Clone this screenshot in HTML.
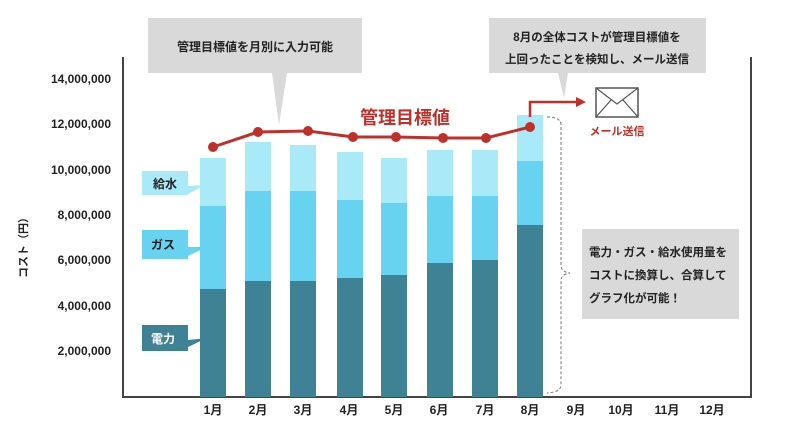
<!DOCTYPE html><html><head><meta charset="utf-8"><style>
body{margin:0;background:#fff}
svg text{font-family:"Liberation Sans","Noto Sans CJK JP",sans-serif}
</style></head><body>
<svg width="800" height="434" viewBox="0 0 800 434" xmlns="http://www.w3.org/2000/svg">
<rect width="800" height="434" fill="#fff"/>
<!-- axes -->
<path d="M123 57 V397 H751 V57" fill="none" stroke="#444" stroke-width="2"/>
<g font-size="12" fill="#222" text-anchor="end" font-weight="bold">
<text x="111" y="83">14,000,000</text>
<text x="111" y="128">12,000,000</text>
<text x="111" y="174">10,000,000</text>
<text x="111" y="219">8,000,000</text>
<text x="111" y="264">6,000,000</text>
<text x="111" y="310">4,000,000</text>
<text x="111" y="355">2,000,000</text>
</g>
<text transform="translate(27,245) rotate(-90)" font-size="11" font-weight="bold" text-anchor="middle" fill="#222">コスト（円）</text>
<!-- bars -->
<g>
<rect x="200" y="158" width="26" height="239" fill="#aae9f7"/><rect x="200" y="206" width="26" height="191" fill="#67d3f0"/><rect x="200" y="289" width="26" height="108" fill="#3f8296"/>
<rect x="245" y="142" width="26" height="255" fill="#aae9f7"/><rect x="245" y="191" width="26" height="206" fill="#67d3f0"/><rect x="245" y="281" width="26" height="116" fill="#3f8296"/>
<rect x="290" y="145" width="26" height="252" fill="#aae9f7"/><rect x="290" y="191" width="26" height="206" fill="#67d3f0"/><rect x="290" y="281" width="26" height="116" fill="#3f8296"/>
<rect x="337" y="152" width="26" height="245" fill="#aae9f7"/><rect x="337" y="200" width="26" height="197" fill="#67d3f0"/><rect x="337" y="278" width="26" height="119" fill="#3f8296"/>
<rect x="381" y="158" width="26" height="239" fill="#aae9f7"/><rect x="381" y="203" width="26" height="194" fill="#67d3f0"/><rect x="381" y="275" width="26" height="122" fill="#3f8296"/>
<rect x="427" y="150" width="26" height="247" fill="#aae9f7"/><rect x="427" y="196" width="26" height="201" fill="#67d3f0"/><rect x="427" y="263" width="26" height="134" fill="#3f8296"/>
<rect x="472" y="150" width="26" height="247" fill="#aae9f7"/><rect x="472" y="196" width="26" height="201" fill="#67d3f0"/><rect x="472" y="260" width="26" height="137" fill="#3f8296"/>
<rect x="517" y="115" width="26" height="282" fill="#aae9f7"/><rect x="517" y="161" width="26" height="236" fill="#67d3f0"/><rect x="517" y="225" width="26" height="172" fill="#3f8296"/>
</g>
<!-- month labels -->
<g font-size="12" font-weight="bold" fill="#222" text-anchor="middle">
<text x="213" y="414">1月</text><text x="258" y="414">2月</text><text x="303" y="414">3月</text><text x="349" y="414">4月</text><text x="394" y="414">5月</text><text x="439" y="414">6月</text><text x="485" y="414">7月</text><text x="530" y="414">8月</text><text x="576" y="414">9月</text><text x="621" y="414">10月</text><text x="667" y="414">11月</text><text x="712" y="414">12月</text>
</g>
<!-- target line -->
<polyline points="213,147 258,132 308,131 353,137 396,137 443,138 486,138 530,127" fill="none" stroke="#c0302a" stroke-width="3"/>
<g fill="#c0302a"><circle cx="213" cy="147" r="5"/><circle cx="258" cy="132" r="5"/><circle cx="308" cy="131" r="5"/><circle cx="353" cy="137" r="5"/><circle cx="396" cy="137" r="5"/><circle cx="443" cy="138" r="5"/><circle cx="486" cy="138" r="5"/><circle cx="530" cy="127" r="5"/></g>
<text x="405" y="124" font-size="18" font-weight="bold" fill="#c0302a" text-anchor="middle">管理目標値</text>
<!-- arrow -->
<path d="M530 117 V102 H577" fill="none" stroke="#c0302a" stroke-width="2.5"/>
<path d="M576 97 L586 102 L576 107Z" fill="#c0302a"/>
<rect x="596" y="88" width="42" height="29" fill="#fff" stroke="#555" stroke-width="1.5"/>
<path d="M596 88 L617 104 L638 88 M596 117 L611 100 M638 117 L623 100" fill="none" stroke="#555" stroke-width="1.2"/>
<text x="617" y="135" font-size="11" font-weight="bold" fill="#c0302a" text-anchor="middle">メール送信</text>
<!-- callouts -->
<path d="M148 18 H362 V73 H287 L279 125 L272 73 H148Z" fill="#d9d9d9"/>
<text x="255" y="51" font-size="12" font-weight="bold" fill="#222" text-anchor="middle">管理目標値を月別に入力可能</text>
<path d="M489 18 H706 V73 H568 L564 98 L558 73 H489Z" fill="#d9d9d9"/>
<text x="597" y="41" font-size="11.5" font-weight="bold" fill="#222" text-anchor="middle">8月の全体コストが管理目標値を</text>
<text x="597" y="63" font-size="11.5" font-weight="bold" fill="#222" text-anchor="middle">上回ったことを検知し、メール送信</text>
<!-- series labels -->
<path d="M142 171 H188 V186 L205 185 L188 194 V195 H142Z" fill="#aae9f7"/>
<text x="165" y="188" font-size="12" font-weight="bold" fill="#222" text-anchor="middle">給水</text>
<path d="M142 230 H188 V247 L207 247 L188 256 V259 H142Z" fill="#67d3f0"/>
<text x="163" y="249" font-size="12" font-weight="bold" fill="#222" text-anchor="middle">ガス</text>
<path d="M142 325 H188 V340 L207 338 L188 347 V351 H142Z" fill="#3f8296"/>
<text x="163" y="343" font-size="12" font-weight="bold" fill="#fff" text-anchor="middle">電力</text>
<!-- brace -->
<path d="M547 117 Q561 117 561 125 V265 Q561 272 570 273 Q561 274 561 281 V385 Q561 392 547 393" fill="none" stroke="#777" stroke-width="1" stroke-dasharray="3,2"/>
<rect x="582" y="229" width="157" height="90" fill="#d9d9d9"/>
<g font-size="11.5" font-weight="bold" fill="#222">
<text x="589" y="256">電力・ガス・給水使用量を</text>
<text x="589" y="279">コストに換算し、合算して</text>
<text x="589" y="302">グラフ化が可能！</text>
</g>
</svg>
</body></html>
